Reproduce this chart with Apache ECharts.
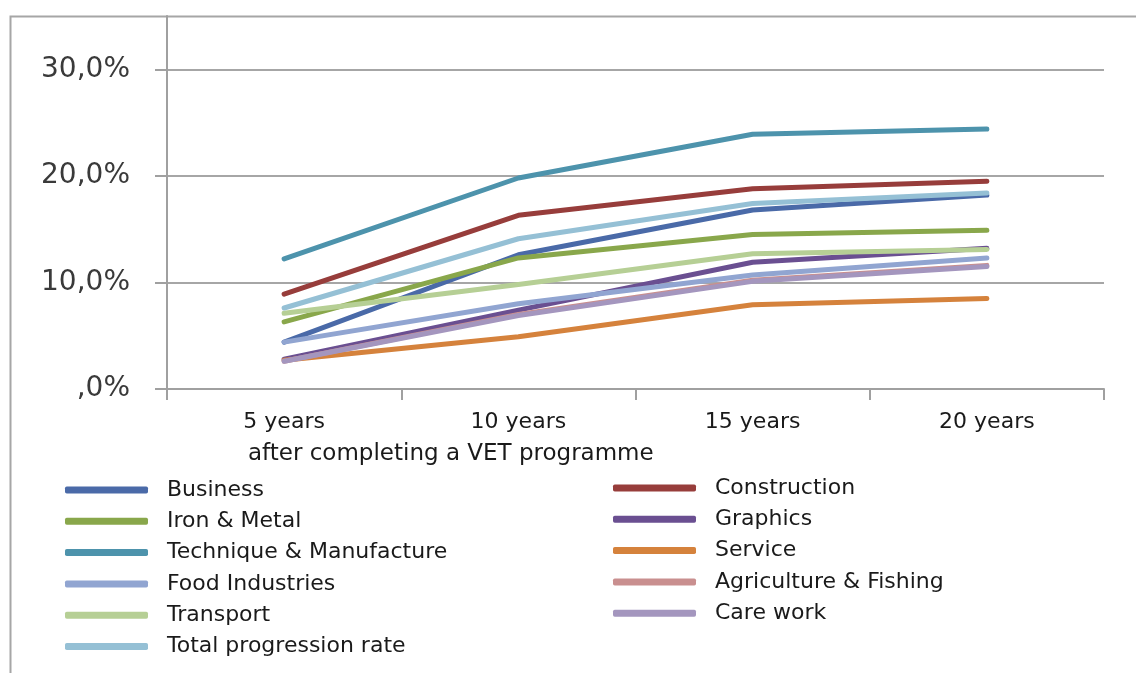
<!DOCTYPE html>
<html>
<head>
<meta charset="utf-8">
<script src="https://cdn.jsdelivr.net/npm/echarts@6/dist/echarts.min.js"></script>
<style>html,body{margin:0;padding:0;background:#fff}#c{width:1136px;height:673px}</style>
</head>
<body>
<div id="c"></div>
<script>
const categories = ['5 years', '10 years', '15 years', '20 years'];
const axisTitle = 'after completing a VET programme';
const business = [4.4, 12.6, 16.8, 18.2];
const construction = [8.9, 16.3, 18.8, 19.5];
const ironMetal = [6.3, 12.3, 14.5, 14.9];
const graphics = [2.8, 7.4, 11.9, 13.2];
const technique = [12.2, 19.8, 23.9, 24.4];
const service = [2.7, 4.9, 7.9, 8.5];
const foodIndustries = [4.4, 8.0, 10.7, 12.3];
const agriculture = [2.6, 7.0, 10.2, 11.6];
const transport = [7.1, 9.8, 12.7, 13.1];
const careWork = [2.6, 6.9, 10.1, 11.5];
const total = [7.6, 14.1, 17.4, 18.4];
const yTicks = [0, 10, 20, 30];

const seriesDefs = [
  ['Business', business, '#4a6aa8'],
  ['Construction', construction, '#973d3b'],
  ['Iron & Metal', ironMetal, '#89a74b'],
  ['Graphics', graphics, '#6a4f91'],
  ['Technique & Manufacture', technique, '#4d93ac'],
  ['Service', service, '#d5823c'],
  ['Food Industries', foodIndustries, '#91a5d1'],
  ['Agriculture & Fishing', agriculture, '#c98f8f'],
  ['Transport', transport, '#b6cf95'],
  ['Care work', careWork, '#a496be'],
  ['Total progression rate', total, '#95c0d5']
];
const leftLegend = ['Business', 'Iron & Metal', 'Technique & Manufacture', 'Food Industries', 'Transport', 'Total progression rate'];
const rightLegend = ['Construction', 'Graphics', 'Service', 'Agriculture & Fishing', 'Care work'];

const font = 'DejaVu Sans';
const chart = echarts.init(document.getElementById('c'), null, {renderer: 'canvas'});
const legendCommon = {
  orient: 'vertical', icon: 'roundRect', itemWidth: 83, itemHeight: 7, itemGap: 9.3,
  textStyle: {fontFamily: font, fontSize: 22, color: '#1a1a1a', padding: [0, 0, 0, 14]},
  selectedMode: false
};
chart.setOption({
  animation: false,
  backgroundColor: '#fff',
  graphic: [{
    type: 'rect', left: 8, top: 14, shape: {width: 1200, height: 800},
    style: {fill: 'none', stroke: '#a6a6a6', lineWidth: 2}, z: -1
  }],
  title: {
    text: axisTitle, left: 243, top: 438,
    textStyle: {fontFamily: font, fontSize: 23, fontWeight: 'normal', color: '#1a1a1a'}
  },
  legend: [
    Object.assign({}, legendCommon, {data: leftLegend, left: 60, top: 474}),
    Object.assign({}, legendCommon, {data: rightLegend, left: 608, top: 472})
  ],
  grid: {left: 167, right: 32, top: 16, bottom: 284, containLabel: false},
  xAxis: {
    type: 'category', data: categories, boundaryGap: true,
    axisLine: {lineStyle: {color: '#a0a0a0', width: 2}},
    axisTick: {show: true, length: 11, lineStyle: {color: '#a0a0a0', width: 2}},
    axisLabel: {margin: 22, fontFamily: font, fontSize: 22, color: '#1a1a1a'}
  },
  yAxis: {
    type: 'value', min: 0, max: 35, interval: 10,
    axisLine: {show: true, lineStyle: {color: '#a0a0a0', width: 2}},
    axisTick: {show: true, length: 12, lineStyle: {color: '#a0a0a0', width: 2},
      customValues: yTicks},
    splitLine: {lineStyle: {color: '#a6a6a6', width: 2}},
    axisLabel: {
      margin: 37, fontFamily: font, fontSize: 28, color: '#3a3a3a',
      customValues: yTicks,
      formatter: v => yTicks.indexOf(v) < 0 ? '' : (v === 0 ? ',0%' : v.toFixed(1).replace('.', ',') + '%')
    }
  },
  series: seriesDefs.map(([name, data, color]) => ({
    name, type: 'line', data, showSymbol: false, symbol: 'none',
    itemStyle: {color},
    lineStyle: {color, width: 5, cap: 'round', join: 'round'},
    emphasis: {disabled: true}
  }))
});
</script>
</body>
</html>
